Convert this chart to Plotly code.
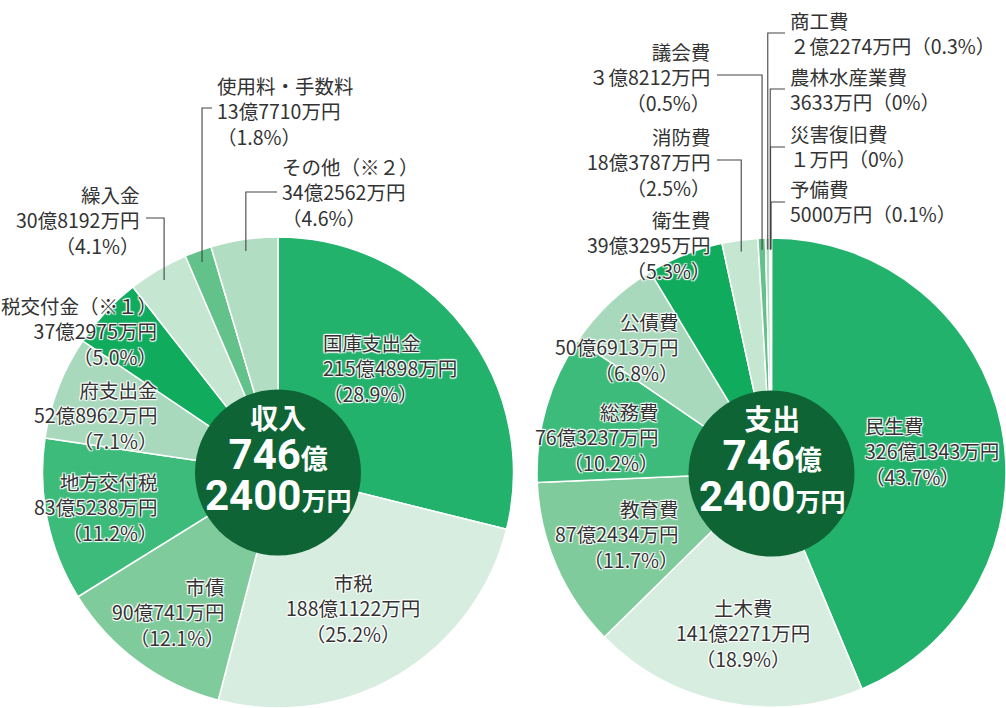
import math
import plotly.graph_objects as go

W, H = 1006, 708

# ---------------- data ----------------
inc_names = ["国庫支出金", "市税", "市債", "地方交付税", "府支出金",
             "税交付金（※１）", "繰入金", "使用料・手数料", "その他（※２）"]
inc_values = [2154898, 1881122, 900741, 835238, 528962, 372975, 308192, 137710, 342562]  # 万円
inc_amounts = ["215億4898万円", "188億1122万円", "90億741万円", "83億5238万円", "52億8962万円",
               "37億2975万円", "30億8192万円", "13億7710万円", "34億2562万円"]
inc_pcts = ["28.9", "25.2", "12.1", "11.2", "7.1", "5.0", "4.1", "1.8", "4.6"]

exp_names = ["民生費", "土木費", "教育費", "総務費", "公債費", "衛生費", "消防費",
             "議会費", "商工費", "農林水産業費", "災害復旧費", "予備費"]
exp_values = [3261343, 1412271, 872434, 763237, 506913, 393295, 183787,
              38212, 22274, 3633, 1, 5000]  # 万円
exp_amounts = ["326億1343万円", "141億2271万円", "87億2434万円", "76億3237万円", "50億6913万円",
               "39億3295万円", "18億3787万円", "３億8212万円", "２億2274万円", "3633万円",
               "１万円", "5000万円"]
exp_pcts = ["43.7", "18.9", "11.7", "10.2", "6.8", "5.3", "2.5", "0.5", "0.3", "0", "0", "0.1"]

center_titles = ["収入", "支出"]
center_big = ["746", "746"]
center_big_unit = ["億", "億"]
center_small = ["2400", "2400"]
center_small_unit = ["万円", "万円"]

# ---------------- styles ----------------
inc_colors = ["#22b26c", "#d7ede0", "#80cb9c", "#3cbb7a", "#a9d9bc",
              "#10ab5c", "#c5e6d1", "#63c28a", "#b1ddc2"]
exp_colors = ["#22b26c", "#d7ede0", "#80cb9c", "#3cbb7a", "#a9d9bc",
              "#10ab5c", "#c5e6d1", "#63c28a", "#b1ddc2", "#3cbb7a", "#d7ede0", "#22b26c"]
DARK = "#0f6435"
TXT = "#333333"
FONT = "Noto Sans CJK JP"
HALO = ("1px 1px 1px white, -1px -1px 1px white, 1px -1px 1px white, -1px 1px 1px white, "
        "0px 0px 2px white")

# pie placement (pixels)
pies = [
    dict(x0=42.5, x1=513.5, y0=237, y1=708),
    dict(x0=537, x1=1006, y0=237, y1=708),
]

# label placement: (x, y, anchor, two_line)
inc_pos = [
    (321, 368, "left", False),
    (353, 608, "center", False),
    (227, 612, "right", False),
    (159, 507, "right", False),
    (159, 415, "right", False),
    (159, 331, "right", False),
    (141, 220, "right", False),
    (215, 111, "left", False),
    (280, 192, "left", False),
]
exp_pos = [
    (863, 451, "left", False),
    (743, 633, "center", False),
    (680, 534, "right", False),
    (660, 437, "right", False),
    (680, 347, "right", False),
    (712, 245, "right", False),
    (712, 162, "right", False),
    (712, 77, "right", False),
    (788, 33, "left", True),
    (788, 89, "left", True),
    (788, 146, "left", True),
    (788, 201, "left", True),
]
# leaders: index -> y of horizontal segment
inc_leaders = {6: 218, 7: 108, 8: 192}
exp_leaders = {6: 160, 7: 75, 8: 33, 9: 89, 10: 147, 11: 202}


def px(x):
    return x / W


def py(y):
    return 1 - y / H


fig = go.Figure()
annotations = []
shapes = []

datasets = [
    (inc_names, inc_values, inc_amounts, inc_pcts, inc_colors, inc_pos, inc_leaders, 0.95),
    (exp_names, exp_values, exp_amounts, exp_pcts, exp_colors, exp_pos, exp_leaders, 0.955),
]

for k, (names, values, amounts, pcts, colors, pos, leaders, depth) in enumerate(datasets):
    p = pies[k]
    fig.add_trace(go.Pie(
        labels=names, values=values, sort=False, direction="clockwise", rotation=0,
        marker=dict(colors=colors, line=dict(color="white", width=1.5)),
        textinfo="none", hoverinfo="label+percent", showlegend=False,
        domain=dict(x=[px(p["x0"]), px(p["x1"])], y=[py(p["y1"]), py(p["y0"])]),
    ))
    cx = (p["x0"] + p["x1"]) / 2
    cy = p["y1"] - min(p["x1"] - p["x0"], p["y1"] - p["y0"]) / 2
    R = min(p["x1"] - p["x0"], p["y1"] - p["y0"]) / 2

    # slice labels
    for i, name in enumerate(names):
        x, y, anc, two = pos[i]
        if two:
            txt = f"{name}<br>{amounts[i]}（{pcts[i]}%）"
        else:
            txt = f"{name}<br>{amounts[i]}<br>（{pcts[i]}%）"
        annotations.append(dict(
            x=px(x), y=py(y), xref="paper", yref="paper", text=txt, showarrow=False,
            xanchor=anc, yanchor="middle", align=anc,
            font=dict(family=FONT, size=19.5, color=TXT, shadow=HALO),
        ))

    # leader lines computed from slice mid-angles
    total = sum(values)
    cum = 0
    for i, v in enumerate(values):
        mid = (cum + v / 2) / total
        cum += v
        if i not in leaders:
            continue
        ang = 2 * math.pi * mid
        ex = cx + depth * R * math.sin(ang)
        ey = cy - depth * R * math.cos(ang)
        x, y, anc, two = pos[i]
        hy = leaders[i]
        sx = x + 5 if anc == "right" else x - 3
        path = f"M {px(sx)},{py(hy)} L {px(ex)},{py(hy)} L {px(ex)},{py(ey)}"
        shapes.append(dict(type="path", path=path, xref="paper", yref="paper",
                           line=dict(color="#444444", width=1.1)))

    # dark centre disc
    rc = 83
    shapes.append(dict(type="circle", xref="paper", yref="paper",
                       x0=px(cx - rc), x1=px(cx + rc), y0=py(cy + rc), y1=py(cy - rc),
                       fillcolor=DARK, line=dict(width=0), layer="above"))
    ctext = (f"<b><span style='font-size:28px'>{center_titles[k]}</span></b><br>"
             f"<b><span style='font-size:42px'>{center_big[k]}</span>"
             f"<span style='font-size:27px'>{center_big_unit[k]}</span></b><br>"
             f"<b><span style='font-size:42px'>{center_small[k]}</span>"
             f"<span style='font-size:25px'>{center_small_unit[k]}</span></b>")
    annotations.append(dict(
        x=px(cx), y=py(cy - 11), xref="paper", yref="paper", text=ctext, showarrow=False,
        xanchor="center", yanchor="middle", align="center",
        font=dict(family="Roboto, " + FONT, size=31, color="white"),
    ))

fig.update_layout(
    width=W, height=H, margin=dict(l=0, r=0, t=0, b=0),
    paper_bgcolor="white", plot_bgcolor="white",
    annotations=annotations, shapes=shapes,
)

fig.write_html("out.html")
